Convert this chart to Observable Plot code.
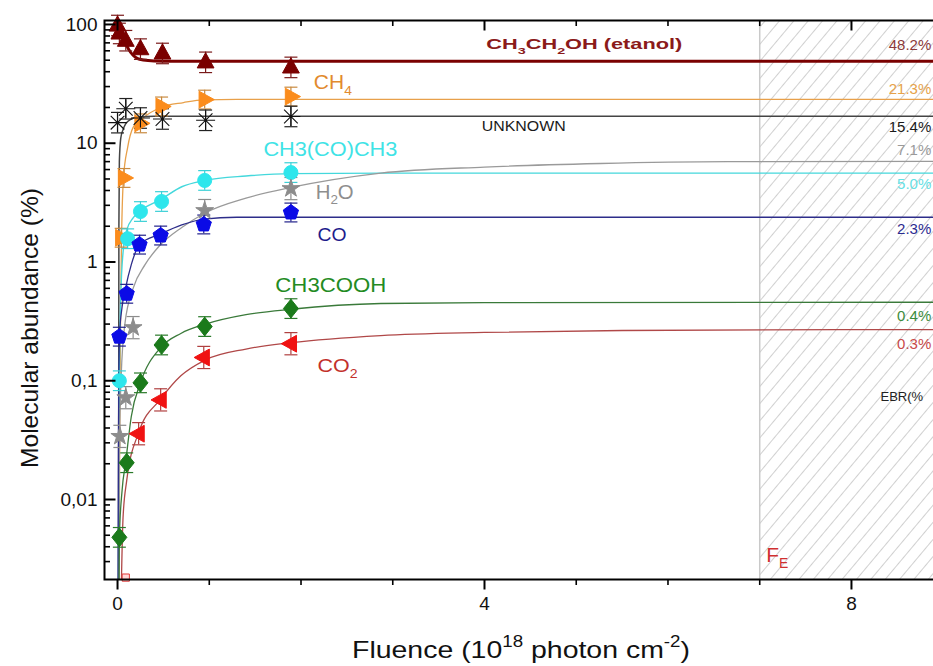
<!DOCTYPE html>
<html><head><meta charset="utf-8">
<script src="https://cdn.jsdelivr.net/npm/d3@7"></script>
<script src="https://cdn.jsdelivr.net/npm/@observablehq/plot@0.6"></script>
<style>
html,body{margin:0;padding:0;background:#fff;overflow:hidden;}
#chart{width:933px;height:666px;overflow:hidden;}
</style></head><body><div id="chart"></div>
<script>
// ---------- data ----------
const speciesNames = ["etanol", "CH4", "UNKNOWN", "CH3(CO)CH3", "H2O", "CO", "CH3COOH", "CO2"];

const etanolF = [0, 0.02, 0.09, 0.25, 0.49, 0.96, 1.89];
const etanolA = [98, 84, 73, 62, 57, 48, 43.5];
const ch4F = [0.04, 0.07, 0.25, 0.48, 0.95, 1.89];
const ch4A = [1.6, 5.1, 14.7, 20.4, 23.3, 24.7];
const unknownF = [0, 0.09, 0.25, 0.49, 0.96, 1.89];
const unknownA = [14.9, 19.5, 16.3, 16.0, 15.6, 16.8];
const acetonaF = [0.02, 0.11, 0.25, 0.48, 0.95, 1.89];
const acetonaA = [0.1, 1.57, 2.66, 3.23, 4.86, 5.66];
const h2oF = [0.025, 0.09, 0.17, 0.95, 1.89];
const h2oA = [0.034, 0.072, 0.28, 2.71, 4.15];
const coF = [0.02, 0.1, 0.24, 0.47, 0.94, 1.89];
const coA = [0.235, 0.54, 1.4, 1.67, 2.07, 2.61];
const acidoF = [0.02, 0.1, 0.25, 0.48, 0.95, 1.89];
const acidoA = [0.0048, 0.0204, 0.096, 0.2, 0.286, 0.405];
const co2F = [0.23, 0.47, 0.94, 1.89];
const co2A = [0.0358, 0.069, 0.157, 0.205];
const co2OpenF = [0.09];
const co2OpenA = [0.0022];

// relative error-bar factor per species
const errFactor = [1.22, 1.2, 1.22, 1.21, 1.24, 1.2, 1.21, 1.24];

// fitted curves
const etanolFitF = [0, 0.04, 0.08, 0.12, 0.17, 0.22, 0.28, 0.4, 0.6, 9.1];
const etanolFitA = [98, 85, 72, 62, 55, 51.5, 50.2, 49.3, 49, 49];
const ch4FitF = [0.015, 0.025, 0.035, 0.044, 0.065, 0.11, 0.17, 0.28, 0.47, 0.72, 0.94, 1.3, 9.1];
const ch4FitA = [0.001, 0.05, 0.5, 1.6, 5.1, 9.2, 13.6, 16.4, 20, 22, 23.2, 23.4, 23.4];
const unknownFitF = [0.01, 0.013, 0.015, 0.02, 0.035, 0.06, 0.09, 0.15, 0.22, 0.4, 9.1];
const unknownFitA = [0.001, 0.1, 2, 7, 11, 13, 14.6, 16, 16.6, 16.9, 16.9];
const acetonaFitF = [0.01, 0.015, 0.02, 0.035, 0.06, 0.1, 0.17, 0.25, 0.47, 0.7, 0.95, 1.4, 1.9, 2.9, 9.1];
const acetonaFitA = [0.001, 0.05, 0.12, 0.5, 1.2, 1.85, 2.35, 2.7, 3.35, 4.3, 4.85, 5.3, 5.55, 5.6, 5.6];
const h2oFitF = [0.012, 0.02, 0.04, 0.08, 0.17, 0.3, 0.45, 0.7, 0.96, 1.4, 1.89, 2.87, 4, 5.26, 6.65, 9.1];
const h2oFitA = [0.001, 0.025, 0.11, 0.3, 0.6, 0.95, 1.35, 1.95, 2.6, 3.45, 4.24, 5.6, 6.3, 6.75, 7.0, 7.05];
const coFitF = [0.005, 0.01, 0.015, 0.02, 0.05, 0.087, 0.15, 0.24, 0.47, 0.7, 0.94, 1.3, 9.1];
const coFitA = [0.001, 0.03, 0.12, 0.23, 0.42, 0.6, 0.95, 1.4, 1.72, 2.05, 2.3, 2.38, 2.38];
const acidoFitF = [0.013, 0.02, 0.05, 0.09, 0.15, 0.25, 0.47, 0.69, 0.96, 1.4, 1.89, 2.87, 4, 9.1];
const acidoFitA = [0.001, 0.0048, 0.012, 0.021, 0.05, 0.096, 0.19, 0.25, 0.3, 0.36, 0.4, 0.447, 0.455, 0.458];
const co2FitF = [0.035, 0.06, 0.1, 0.23, 0.47, 0.69, 0.96, 1.4, 1.89, 2.87, 4, 5.5, 9.1];
const co2FitA = [0.001, 0.007, 0.0144, 0.0366, 0.07, 0.11, 0.15, 0.185, 0.209, 0.24, 0.255, 0.265, 0.27];

// final branching ratios (EBR)
const ebrText = ["48.2%", "21.3%", "15.4%", "7.1%", "5.0%", "2.3%", "0.4%", "0.3%"];

// end fluence
const fluenceEnd = 7;

// axis ticks
const yMajor = [0.01, 0.1, 1, 10, 100];
const yMajorLabels = ["0,01", "0,1", "1", "10", "100"];
const yMinor = [0.003, 0.004, 0.005, 0.006, 0.007, 0.008, 0.009,
  0.02, 0.03, 0.04, 0.05, 0.06, 0.07, 0.08, 0.09,
  0.2, 0.3, 0.4, 0.5, 0.6, 0.7, 0.8, 0.9,
  2, 3, 4, 5, 6, 7, 8, 9,
  20, 30, 40, 50, 60, 70, 80, 90];
const xMajor = [0, 4, 8];
const xMajorLabels = ["0", "4", "8"];
const xMinor = [1, 2, 3, 5, 6, 7];

// ---------- annotation layout ----------
const labelText = ["CH_{3}CH_{2}OH (etanol)", "CH_{4}", "UNKNOWN", "CH3(CO)CH3", "H_{2}O", "CO", "CH3COOH", "CO_{2}"];
const labelX = [4.02, 2.14, 3.97, 1.59, 2.16, 2.18, 1.72, 2.18];
const labelY = [67.8, 32.1, 13.8, 8.76, 3.85, 1.68, 0.627, 0.1327];
const labelSize = [15, 20, 15, 20, 20, 18, 20, 19];
const labelWidth = [196, 38, 84, 134, 38, 29, 111, 40];
const labelColor = ["#8b1a1a", "#e28a2e", "#1a1a1a", "#3fe3e6", "#8e8e8e", "#1c1c8c", "#238b23", "#c2302b"];
const ebrY = [66.5, 28.3, 13.6, 8.68, 4.49, 1.9, 0.352, 0.205];
const ebrColor = ["#8b3a3a", "#e6a24a", "#1a1a1a", "#9a9a9a", "#66e0e4", "#2b2b8f", "#3c8c3c", "#c84a4a"];
const axisTitleX = "Fluence (10^{18} photon cm^{-2})";
const axisTitleY = "Molecular abundance (%)";

// ---------- symbols ----------
function sym(fn) { return {draw(ctx, size) { fn(ctx, Math.sqrt(size / Math.PI)); }}; }
const SYM = {
  triUp: sym((c, r) => { c.moveTo(0, -r * 1.2); c.lineTo(r * 1.05, r * 0.7); c.lineTo(-r * 1.05, r * 0.7); c.closePath(); }),
  triRight: sym((c, r) => { c.moveTo(r * 1.2, 0); c.lineTo(-r * 0.7, r * 1.05); c.lineTo(-r * 0.7, -r * 1.05); c.closePath(); }),
  triLeft: sym((c, r) => { c.moveTo(-r * 1.2, 0); c.lineTo(r * 0.7, r * 1.05); c.lineTo(r * 0.7, -r * 1.05); c.closePath(); }),
  pentagon: sym((c, r) => { for (let i = 0; i < 5; i++) { const a = -Math.PI / 2 + i * 2 * Math.PI / 5; const x = r * Math.cos(a), y = r * Math.sin(a); if (i) c.lineTo(x, y); else c.moveTo(x, y); } c.closePath(); }),
  diamond: sym((c, r) => { c.moveTo(0, -r * 1.25); c.lineTo(r, 0); c.lineTo(0, r * 1.25); c.lineTo(-r, 0); c.closePath(); }),
  asterisk: sym((c, r) => { const k = r * 0.72; c.moveTo(0, -r); c.lineTo(0, r); c.moveTo(-r, 0); c.lineTo(r, 0); c.moveTo(-k, -k); c.lineTo(k, k); c.moveTo(-k, k); c.lineTo(k, -k); }),
  square: sym((c, r) => { c.rect(-r, -r, 2 * r, 2 * r); }),
  cap: sym((c, r) => { c.moveTo(-r, 0); c.lineTo(r, 0); }),
  tickH: sym((c, r) => { c.moveTo(0, 0); c.lineTo(r, 0); }),
  tickV: sym((c, r) => { c.moveTo(0, 0); c.lineTo(0, r); })
};

// ---------- styles per species ----------
const seriesData = [
  {F: etanolF, A: etanolA, fitF: etanolFitF, fitA: etanolFitA},
  {F: ch4F, A: ch4A, fitF: ch4FitF, fitA: ch4FitA},
  {F: unknownF, A: unknownA, fitF: unknownFitF, fitA: unknownFitA},
  {F: acetonaF, A: acetonaA, fitF: acetonaFitF, fitA: acetonaFitA},
  {F: h2oF, A: h2oA, fitF: h2oFitF, fitA: h2oFitA},
  {F: coF, A: coA, fitF: coFitF, fitA: coFitA},
  {F: acidoF, A: acidoA, fitF: acidoFitF, fitA: acidoFitA},
  {F: co2F, A: co2A, fitF: co2FitF, fitA: co2FitA}
];
const seriesStyle = [
  {symbol: SYM.triUp, r: 8, fill: "#7a0000", stroke: "#7a0000", err: "#7a1a1a", fit: "#7a0000", fitW: 3},
  {symbol: SYM.triRight, r: 8, fill: "#fb8c1c", stroke: "#fb8c1c", err: "#c88a40", fit: "#e8a04a", fitW: 1.3},
  {symbol: SYM.asterisk, r: 9.5, fill: "none", stroke: "#111", err: "#222", fit: "#444", fitW: 1.5, sw: 1.1},
  {symbol: "circle", r: 7, fill: "#2ee6ec", stroke: "#2ee6ec", err: "#3bd0d6", fit: "#44d8dc", fitW: 1.4},
  {symbol: "star", r: 5.6, fill: "#8c8c8c", stroke: "#8c8c8c", err: "#8c8c8c", fit: "#9a9a9a", fitW: 1.3},
  {symbol: SYM.pentagon, r: 8, fill: "#0b0be6", stroke: "#0b0be6", err: "#20208a", fit: "#2d2d8a", fitW: 1.3},
  {symbol: SYM.diamond, r: 7.5, fill: "#1b7a1b", stroke: "#1b7a1b", err: "#2a7a2a", fit: "#3a7a3a", fitW: 1.3},
  {symbol: SYM.triLeft, r: 8, fill: "#f01212", stroke: "#f01212", err: "#b04040", fit: "#b04848", fitW: 1.3}
];

const FONT = "'Liberation Sans', Arial, Helvetica, sans-serif";
const Y0 = 0.00212, Y1 = 108, X0 = -0.142, X1 = 9.025;

const marks = [];
// hatched end region
marks.push(Plot.rect([fluenceEnd], {x1: d => d, x2: X1 + 0.5, y1: Y0, y2: Y1, fill: "url(#hatch)"}));
marks.push(Plot.ruleX([fluenceEnd], {x: d => d, y1: Y0, y2: Y1, stroke: "#c9c9c9", strokeWidth: 1.5}));

// fit curves
seriesData.forEach((s, k) => {
  const st = seriesStyle[k];
  const rows = s.fitF.map((f, i) => ({f, a: s.fitA[i]}));
  marks.push(Plot.line(rows, {x: "f", y: "a", stroke: st.fit, strokeWidth: st.fitW, curve: "monotone-x", clip: true}));
});
// error bars
seriesData.forEach((s, k) => {
  const st = seriesStyle[k];
  const rows = s.F.map((f, i) => ({f, a: s.A[i], lo: s.A[i] / errFactor[k], hi: s.A[i] * errFactor[k]}));
  marks.push(Plot.ruleX(rows, {x: "f", y1: "lo", y2: "hi", stroke: st.err, strokeWidth: 1.2}));
  marks.push(Plot.dot(rows, {x: "f", y: "lo", symbol: SYM.cap, r: 6.5, stroke: st.err, strokeWidth: 1.2, fill: "none"}));
  marks.push(Plot.dot(rows, {x: "f", y: "hi", symbol: SYM.cap, r: 6.5, stroke: st.err, strokeWidth: 1.2, fill: "none"}));
});
// markers
seriesData.forEach((s, k) => {
  const st = seriesStyle[k];
  const rows = s.F.map((f, i) => ({f, a: s.A[i]}));
  marks.push(Plot.dot(rows, {x: "f", y: "a", symbol: st.symbol, r: st.r, fill: st.fill, stroke: st.stroke, strokeWidth: st.sw || 1}));
});
marks.push(Plot.dot(co2OpenF.map((f, i) => ({f, a: co2OpenA[i]})), {x: "f", y: "a", symbol: SYM.square, r: 3.6, fill: "#ffd6d6", stroke: "#e03a3a", strokeWidth: 1}));

// species labels
labelText.forEach((t, i) => {
  marks.push(Plot.text([t], {x: labelX[i], y: labelY[i], text: d => d, textAnchor: "start", fontSize: labelSize[i], fill: labelColor[i], fontWeight: i === 0 ? "bold" : "normal"}));
});
// EBR percentages
ebrText.forEach((t, i) => {
  marks.push(Plot.text([t], {x: 8.87, y: ebrY[i], text: d => d, textAnchor: "end", fontSize: 15, fill: ebrColor[i]}));
});
marks.push(Plot.text(["EBR(%"], {x: 8.316, y: 0.0737, text: d => d, textAnchor: "start", fontSize: 13, fill: "#222"}));
marks.push(Plot.text(["F_{E}"], {x: 7.07, y: 0.00338, text: d => d, textAnchor: "start", fontSize: 21, fill: "#d03030"}));

// frame and ticks
marks.push(Plot.frame({stroke: "#000", strokeWidth: 2}));
marks.push(Plot.dot(yMajor, {y: d => d, frameAnchor: "left", symbol: SYM.tickH, r: 11, stroke: "#000", strokeWidth: 2}));
marks.push(Plot.dot(yMinor, {y: d => d, frameAnchor: "left", symbol: SYM.tickH, r: 5.5, stroke: "#000", strokeWidth: 1.6}));
marks.push(Plot.dot(xMajor, {x: d => d, frameAnchor: "bottom", symbol: SYM.tickV, r: 10, stroke: "#000", strokeWidth: 2}));
marks.push(Plot.dot(xMinor, {x: d => d, frameAnchor: "bottom", symbol: SYM.tickV, r: 5.5, stroke: "#000", strokeWidth: 1.6}));
marks.push(Plot.dot(xMajor, {x: d => d, frameAnchor: "top", symbol: SYM.tickV, r: 10, stroke: "#000", strokeWidth: 2}));
marks.push(Plot.dot(xMinor, {x: d => d, frameAnchor: "top", symbol: SYM.tickV, r: 5.5, stroke: "#000", strokeWidth: 1.6}));
// tick labels
marks.push(Plot.text(yMajor, {y: d => d, text: (d, i) => yMajorLabels[i], frameAnchor: "left", dx: -7, textAnchor: "end", fontSize: 19, fill: "#111"}));
marks.push(Plot.text(xMajor, {x: d => d, text: (d, i) => xMajorLabels[i], frameAnchor: "bottom", dy: 30, textAnchor: "middle", fontSize: 19, fill: "#111"}));
// axis titles
marks.push(Plot.text([axisTitleX], {text: d => d, frameAnchor: "bottom", dy: 78, dx: -4, textAnchor: "middle", fontSize: 24, fill: "#111"}));
marks.push(Plot.text([axisTitleY], {text: d => d, frameAnchor: "left", dx: -74, dy: 28, rotate: -90, textAnchor: "middle", fontSize: 24, fill: "#111"}));

const plot = Plot.plot({
  width: 945, height: 666,
  marginLeft: 104, marginRight: 0, marginTop: 20, marginBottom: 87,
  x: {domain: [X0, X1], axis: null},
  y: {type: "log", domain: [Y0, Y1], axis: null},
  style: {fontFamily: FONT, background: "#fff", maxWidth: "none", overflow: "visible"},
  marks
});
document.getElementById("chart").appendChild(plot);

// hatch pattern
const defs = d3.select(plot).insert("defs", ":first-child");
const pat = defs.append("pattern").attr("id", "hatch").attr("patternUnits", "userSpaceOnUse")
  .attr("width", 11).attr("height", 11).attr("patternTransform", "rotate(40)");
pat.append("rect").attr("width", 11).attr("height", 11).attr("fill", "#fff");
pat.append("line").attr("x1", 5.5).attr("y1", -1).attr("x2", 5.5).attr("y2", 12).attr("stroke", "#d0d0d0").attr("stroke-width", 1);

// sub/superscripts and label widths
const widthMap = {};
labelText.forEach((t, i) => widthMap[t] = labelWidth[i]);
widthMap[axisTitleX] = 338;
widthMap[axisTitleY] = 280;
plot.querySelectorAll("text").forEach(t => {
  const raw = t.textContent;
  if (widthMap[raw]) { t.setAttribute("textLength", widthMap[raw]); t.setAttribute("lengthAdjust", "spacingAndGlyphs"); }
  if (!/[_^]\{/.test(raw)) return;
  const fs = parseFloat(getComputedStyle(t).fontSize) || 16;
  t.textContent = "";
  const re = /([_^])\{([^}]*)\}/g;
  let last = 0, m, shift = 0;
  const add = (txt, kind) => {
    const ts = document.createElementNS("http://www.w3.org/2000/svg", "tspan");
    const target = kind === "_" ? fs * 0.28 : kind === "^" ? -fs * 0.42 : 0;
    const d = target - shift;
    if (d) ts.setAttribute("dy", d.toFixed(2));
    shift = target;
    if (kind) ts.setAttribute("font-size", (fs * 0.66).toFixed(1));
    ts.textContent = txt;
    t.appendChild(ts);
  };
  while ((m = re.exec(raw))) { if (m.index > last) add(raw.slice(last, m.index), null); add(m[2], m[1]); last = re.lastIndex; }
  if (last < raw.length) add(raw.slice(last), null);
});
</script></body></html>
